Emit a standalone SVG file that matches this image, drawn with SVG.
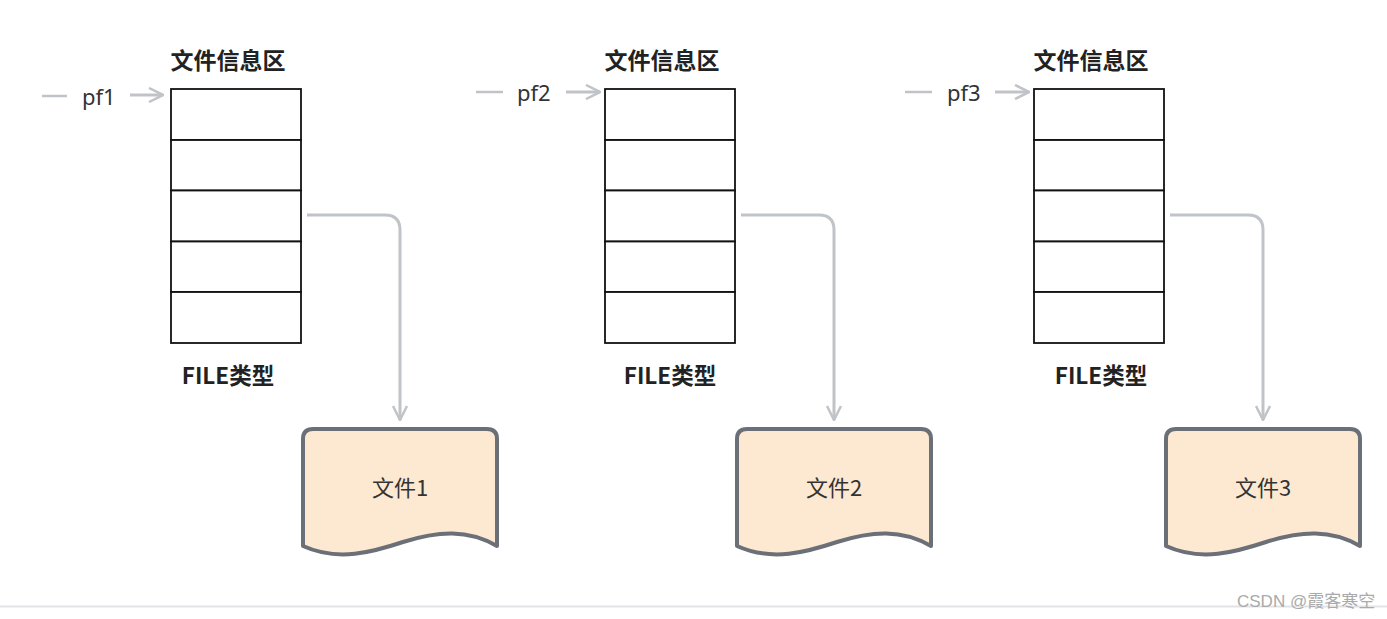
<svg xmlns="http://www.w3.org/2000/svg" width="1387" height="619" viewBox="0 0 1387 619">
<style>
.title{font-family:"Noto Sans CJK SC","Noto Sans",sans-serif;font-size:23px;font-weight:bold;fill:#222;text-anchor:middle}
.ft{font-family:"Noto Sans CJK SC","Noto Sans",sans-serif;font-size:22.5px;font-weight:bold;fill:#222;text-anchor:middle}
.lbl{font-family:"Noto Sans","Noto Sans CJK SC",sans-serif;font-size:22px;fill:#333}
.doc-t{font-family:"Noto Sans CJK SC","Noto Sans",sans-serif;font-size:22px;fill:#333;text-anchor:middle}
.cell{fill:#fff;stroke:#111;stroke-width:1.8}
.conn{fill:none;stroke:#c0c3c8;stroke-width:3}
.doc{fill:#fde8d1;stroke:#6a6f78;stroke-width:4;stroke-linejoin:round}
.wm{font-family:"Liberation Sans","Noto Sans CJK SC",sans-serif;font-size:17px;fill:#aaa}
</style>
<defs>
<marker id="ah2" viewBox="0 0 16 16" refX="15" refY="8" markerWidth="16" markerHeight="16" markerUnits="userSpaceOnUse" orient="auto">
<path d="M1,1 L15,8 L1,15" fill="none" stroke="#c0c3c8" stroke-width="2.5"/>
</marker>
<g id="stack">
<rect class="cell" x="0" y="0" width="130" height="51"/>
<rect class="cell" x="0" y="51" width="130" height="50.5"/>
<rect class="cell" x="0" y="101.5" width="130" height="51"/>
<rect class="cell" x="0" y="152.5" width="130" height="50.5"/>
<rect class="cell" x="0" y="203" width="130" height="51"/>
</g>
<path id="docshape" d="M0,10 Q0,0 10,0 L184,0 Q194,0 194,10 L194,117 C165,100 135,102 100,113 C70,123 35,133 0,117 Z"/>
</defs>

<g id="node-pf1">
<line x1="42" y1="96" x2="67" y2="96" stroke="#c0c3c8" stroke-width="2.5"/>
<text class="lbl" x="82" y="105">pf1</text>
</g>
<g id="node-pf2">
<line x1="476" y1="92" x2="503" y2="92" stroke="#c0c3c8" stroke-width="2.5"/>
<text class="lbl" x="517" y="101">pf2</text>
</g>
<g id="node-pf3">
<line x1="905" y1="92" x2="932" y2="92" stroke="#c0c3c8" stroke-width="2.5"/>
<text class="lbl" x="947" y="101">pf3</text>
</g>

<g id="node-struct1">
<text class="title" x="228" y="69">文件信息区</text>
<use href="#stack" x="171" y="89"/>
<text class="ft" x="228" y="384">FILE类型</text>
</g>
<g id="node-struct2">
<text class="title" x="662" y="69">文件信息区</text>
<use href="#stack" x="605" y="89"/>
<text class="ft" x="670" y="384">FILE类型</text>
</g>
<g id="node-struct3">
<text class="title" x="1091" y="69">文件信息区</text>
<use href="#stack" x="1034" y="89"/>
<text class="ft" x="1101" y="384">FILE类型</text>
</g>

<g id="node-file1">
<use href="#docshape" class="doc" x="303" y="429"/>
<text class="doc-t" x="400" y="496">文件1</text>
</g>
<g id="node-file2">
<use href="#docshape" class="doc" x="737" y="429"/>
<text class="doc-t" x="834" y="496">文件2</text>
</g>
<g id="node-file3">
<use href="#docshape" class="doc" x="1166" y="429"/>
<text class="doc-t" x="1263" y="496">文件3</text>
</g>

<g id="connectors">
<line class="conn" x1="130" y1="95" x2="163" y2="95" marker-end="url(#ah2)"/>
<line class="conn" x1="566" y1="92" x2="600" y2="92" marker-end="url(#ah2)"/>
<line class="conn" x1="995" y1="92" x2="1029" y2="92" marker-end="url(#ah2)"/>
<path class="conn" d="M307,215 L385,215 Q400,215 400,230 L400,420" marker-end="url(#ah2)"/>
<path class="conn" d="M741,215 L819,215 Q834,215 834,230 L834,420" marker-end="url(#ah2)"/>
<path class="conn" d="M1170,215 L1248,215 Q1263,215 1263,230 L1263,420" marker-end="url(#ah2)"/>
</g>

<line x1="0" y1="606.5" x2="1387" y2="606.5" stroke="#e2e3e6" stroke-width="2"/>
<text class="wm" x="1237" y="607">CSDN @霞客寒空</text>
</svg>
